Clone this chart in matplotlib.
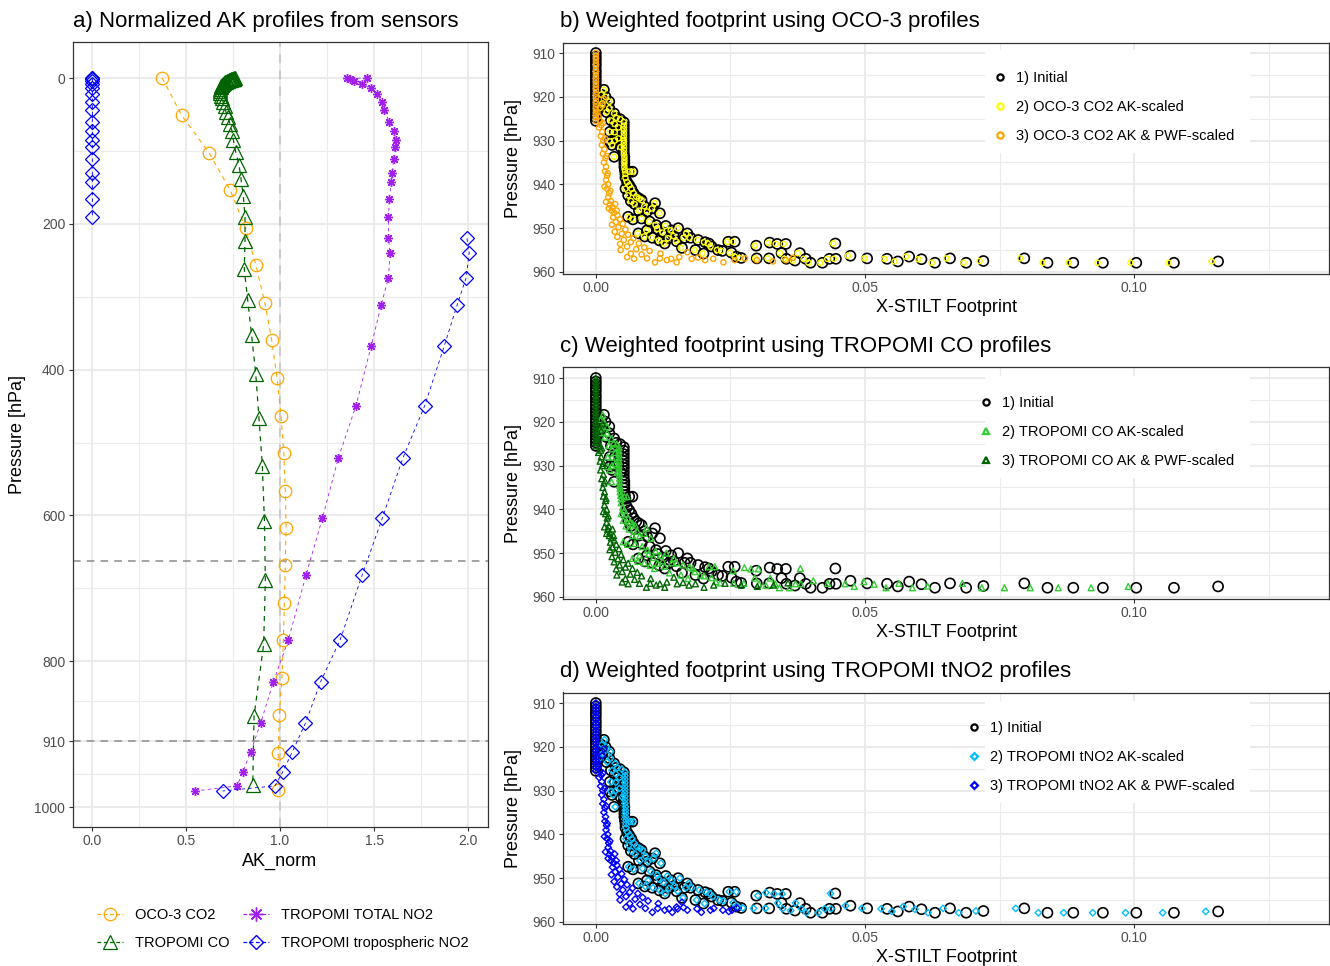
import matplotlib
matplotlib.use("Agg")
import matplotlib.pyplot as plt
from matplotlib.lines import Line2D
from matplotlib.patches import Rectangle

plt.rcParams['font.family'] = ['Liberation Sans', 'DejaVu Sans']

W, H = 1330, 966

# ---------------- a) normalized averaging kernels ----------------
oco_p = [0, 51, 103, 154, 206, 257, 309, 360, 411, 463, 514, 566, 617, 668, 720, 771, 823, 874, 926, 977]
oco_ak = [0.374, 0.477, 0.624, 0.736, 0.817, 0.872, 0.920, 0.956, 0.984, 1.005,
          1.020, 1.028, 1.032, 1.028, 1.023, 1.018, 1.010, 0.996, 0.991, 0.991]

co_p = [0.5, 0.6, 0.72, 0.85, 1.0, 1.2, 1.4, 1.6, 1.9, 2.2, 2.6, 3.1, 3.6, 4.2, 5.0, 5.8, 6.8,
        8.0, 9.4, 11, 12.8, 15, 17.5, 20.5, 24, 28, 33, 39, 46, 54, 63, 73, 85, 101, 119,
        139, 162, 191, 223, 262, 304, 353, 406, 466, 532, 607, 688, 777, 875, 970]
co_ak = [0.760, 0.758, 0.756, 0.754, 0.752, 0.750, 0.748, 0.745, 0.742, 0.738, 0.734, 0.730,
         0.725, 0.720, 0.714, 0.708, 0.702, 0.697, 0.692,
         0.688, 0.685, 0.683, 0.682, 0.683,
         0.686, 0.692, 0.698, 0.705, 0.712, 0.722,
         0.735, 0.745, 0.752, 0.764, 0.782, 0.793, 0.805, 0.814, 0.814, 0.810,
         0.828, 0.849, 0.871, 0.888, 0.906, 0.917, 0.922, 0.913, 0.862, 0.855]

no2_p = [0.0, 0.5, 1.4, 3.7, 8.2, 14, 22, 33, 44, 61, 72, 85, 95, 111, 130, 143, 166, 191,
         220, 240, 274, 312, 368, 450, 521, 604, 682, 771, 828, 885, 924, 952, 971, 978]
no2_tot = [1.464, 1.355, 1.372, 1.394, 1.434, 1.482, 1.517, 1.541, 1.555, 1.581, 1.603, 1.615,
           1.612, 1.603, 1.597, 1.590, 1.581, 1.576, 1.576, 1.585, 1.576, 1.537, 1.484, 1.403,
           1.310, 1.225, 1.138, 1.044, 0.965, 0.897, 0.844, 0.803, 0.771, 0.549]
no2_trop = [0, 0, 0, 0, 0, 0, 0, 0, 0, 0, 0, 0, 0, 0, 0, 0, 0, 0,
            1.993, 2.005, 1.989, 1.940, 1.872, 1.768, 1.653, 1.543, 1.436, 1.319, 1.216,
            1.135, 1.066, 1.014, 0.973, 0.695]
n_strat = 18  # levels above the tropopause (zero tropospheric AK)

# ---------------- b-d) particle footprints ----------------
# particles with zero footprint (same for every scaling)
zero_p = [910, 910.8, 911.5, 912.3, 913, 913.9, 914.6, 915.4, 916.2, 917, 917.8, 918.5,
          919.3, 920.1, 920.9, 921.6, 922.4, 923.1, 923.9, 924.7, 925.5]

init_p = [922.5, 919.5, 921.5, 918.4, 920.0, 923.5, 921.1, 922.6, 925.4, 923.8, 924.8, 925.1,
          928.0, 930.2, 931.0, 933.7, 926.2, 928.1, 930.0, 927.0, 929.5, 931.5,
          925.8, 926.6, 927.4, 928.2, 929.0, 929.8, 930.5, 931.3, 932.1, 932.9, 933.7, 934.5,
          935.2, 936.0, 936.8,
          937.6, 937.1, 937.1, 938.5, 939.5, 940.2, 941.0, 941.0, 942.0, 942.5,
          942.8, 943.2, 943.6, 943.8, 944.5, 945.0, 944.3, 945.5, 946.0, 946.2,
          946.6, 947.4, 947.8, 948.0, 948.5, 949.3, 949.5, 950.0, 950.2, 950.5,
          950.5, 951.0, 951.2, 951.2, 951.8, 951.9, 952.2, 952.2, 952.2, 952.3,
          952.7, 952.8, 953.0, 953.1, 953.1, 953.2, 953.5, 953.5, 954.0, 954.2,
          954.5, 955.0, 955.0, 955.2, 955.6, 955.8, 956.5, 956.8,
          953.3, 953.6, 953.6, 953.5, 956.9, 956.9, 955.7, 957.0, 957.4, 955.7,
          957.0, 957.9, 957.9, 957.0, 957.0, 956.3, 956.9, 957.0, 957.6, 956.5,
          957.1, 957.9, 956.9, 957.9, 957.5, 956.9, 957.9, 957.9, 957.9, 957.9,
          957.9, 957.6]
init_fp = [0.0008, 0.0010, 0.0012, 0.0015, 0.0018, 0.0020, 0.0025, 0.0025, 0.0028, 0.0034, 0.0038, 0.0045,
           0.0026, 0.0026, 0.0030, 0.0034, 0.0035, 0.0035, 0.0035, 0.0042, 0.0042, 0.0046,
           0.0052, 0.0052, 0.0052, 0.0052, 0.0052, 0.0052, 0.0052, 0.0052, 0.0052, 0.0052,
           0.0053, 0.0053, 0.0053, 0.0053, 0.0054,
           0.0055, 0.0062, 0.0068, 0.0055, 0.0058, 0.0062, 0.0055, 0.0066, 0.0070, 0.0060,
           0.0075, 0.0080, 0.0085, 0.0065, 0.0072, 0.0090, 0.0110, 0.0105, 0.0080, 0.0095,
           0.0119, 0.0060, 0.0085, 0.0069, 0.0100, 0.0112, 0.0130, 0.0153, 0.0115, 0.0095,
           0.0140, 0.0125, 0.0079, 0.0170, 0.0145, 0.0091, 0.0105, 0.0165, 0.0176, 0.0135,
           0.0190, 0.0118, 0.0150, 0.0246, 0.0258, 0.0203, 0.0128, 0.0210, 0.0298, 0.0215,
           0.0160, 0.0185, 0.0227, 0.0235, 0.0252, 0.0200, 0.0261, 0.0270,
           0.0323, 0.0337, 0.0353, 0.0445, 0.0299, 0.0322, 0.0345, 0.0354, 0.0370, 0.0379,
           0.0390, 0.0399, 0.0421, 0.0434, 0.0446, 0.0473, 0.0504, 0.0541, 0.0561, 0.0582,
           0.0605, 0.0630, 0.0658, 0.0688, 0.0720, 0.0796, 0.0839, 0.0887, 0.0942, 0.1004,
           0.1074, 0.1156]

# AK-scaled footprints (same particles as init_p)
oco_ak_fp = [0.0008, 0.0010, 0.0012, 0.0015, 0.0018, 0.0020, 0.0025, 0.0025, 0.0028, 0.0034, 0.0038, 0.0045,
             0.0026, 0.0026, 0.0030, 0.0034, 0.0035, 0.0035, 0.0035, 0.0042, 0.0042, 0.0046,
             0.0052, 0.0052, 0.0052, 0.0052, 0.0052, 0.0052, 0.0052, 0.0052, 0.0052, 0.0052,
             0.0053, 0.0053, 0.0053, 0.0053, 0.0054,
             0.0055, 0.0062, 0.0068, 0.0055, 0.0058, 0.0062, 0.0055, 0.0066, 0.0070, 0.0060,
             0.0075, 0.0080, 0.0085, 0.0065, 0.0072, 0.0090, 0.0109, 0.0104, 0.0080, 0.0095,
             0.0118, 0.0060, 0.0085, 0.0069, 0.0099, 0.0111, 0.0129, 0.0152, 0.0114, 0.0094,
             0.0139, 0.0124, 0.0078, 0.0168, 0.0144, 0.0090, 0.0104, 0.0163, 0.0174, 0.0134,
             0.0188, 0.0117, 0.0149, 0.0244, 0.0255, 0.0201, 0.0127, 0.0208, 0.0295, 0.0213,
             0.0158, 0.0183, 0.0225, 0.0233, 0.0249, 0.0198, 0.0258, 0.0267,
             0.0320, 0.0334, 0.0349, 0.0441, 0.0296, 0.0319, 0.0342, 0.0350, 0.0366, 0.0375,
             0.0386, 0.0395, 0.0417, 0.0430, 0.0442, 0.0468, 0.0499, 0.0536, 0.0555, 0.0576,
             0.0599, 0.0624, 0.0651, 0.0683, 0.0713, 0.0788, 0.0830, 0.0878, 0.0932, 0.0993,
             0.1064, 0.1144]
co_ak_fp = [0.0007, 0.0009, 0.0010, 0.0013, 0.0015, 0.0017, 0.0021, 0.0021, 0.0024, 0.0029, 0.0033, 0.0039,
            0.0022, 0.0022, 0.0026, 0.0029, 0.0030, 0.0030, 0.0030, 0.0036, 0.0036, 0.0040,
            0.0043, 0.0043, 0.0043, 0.0043, 0.0043, 0.0043, 0.0043, 0.0043, 0.0044, 0.0044,
            0.0044, 0.0044, 0.0045, 0.0045, 0.0046,
            0.0047, 0.0053, 0.0058, 0.0047, 0.0050, 0.0053, 0.0047, 0.0056, 0.0060, 0.0051,
            0.0064, 0.0068, 0.0073, 0.0056, 0.0062, 0.0077, 0.0094, 0.0090, 0.0068, 0.0081,
            0.0102, 0.0051, 0.0073, 0.0059, 0.0086, 0.0096, 0.0111, 0.0131, 0.0098, 0.0081,
            0.0120, 0.0107, 0.0068, 0.0145, 0.0124, 0.0078, 0.0090, 0.0141, 0.0150, 0.0115,
            0.0162, 0.0101, 0.0128, 0.0210, 0.0221, 0.0174, 0.0109, 0.0180, 0.0255, 0.0184,
            0.0137, 0.0158, 0.0194, 0.0201, 0.0215, 0.0171, 0.0223, 0.0231,
            0.0276, 0.0288, 0.0302, 0.0380, 0.0256, 0.0275, 0.0295, 0.0303, 0.0316, 0.0324,
            0.0333, 0.0341, 0.0360, 0.0371, 0.0381, 0.0404, 0.0431, 0.0463, 0.0480, 0.0498,
            0.0517, 0.0539, 0.0563, 0.0588, 0.0616, 0.0681, 0.0717, 0.0759, 0.0807, 0.0859,
            0.0920, 0.0989]
no2_ak_fp = [0.0008, 0.0011, 0.0013, 0.0016, 0.0019, 0.0021, 0.0027, 0.0027, 0.0030, 0.0036, 0.0040, 0.0048,
             0.0028, 0.0028, 0.0032, 0.0036, 0.0037, 0.0037, 0.0037, 0.0044, 0.0044, 0.0049,
             0.0054, 0.0054, 0.0054, 0.0054, 0.0054, 0.0054, 0.0054, 0.0054, 0.0054, 0.0054,
             0.0055, 0.0055, 0.0055, 0.0055, 0.0056,
             0.0056, 0.0063, 0.0069, 0.0056, 0.0059, 0.0063, 0.0056, 0.0067, 0.0071, 0.0061,
             0.0076, 0.0082, 0.0087, 0.0066, 0.0073, 0.0092, 0.0112, 0.0107, 0.0082, 0.0097,
             0.0121, 0.0061, 0.0087, 0.0070, 0.0102, 0.0114, 0.0133, 0.0156, 0.0117, 0.0097,
             0.0141, 0.0126, 0.0080, 0.0172, 0.0146, 0.0092, 0.0106, 0.0167, 0.0178, 0.0136,
             0.0192, 0.0119, 0.0152, 0.0248, 0.0261, 0.0205, 0.0129, 0.0212, 0.0301, 0.0217,
             0.0162, 0.0187, 0.0229, 0.0237, 0.0255, 0.0202, 0.0264, 0.0273,
             0.0316, 0.0331, 0.0346, 0.0436, 0.0293, 0.0315, 0.0338, 0.0347, 0.0362, 0.0371,
             0.0382, 0.0391, 0.0413, 0.0425, 0.0437, 0.0464, 0.0494, 0.0530, 0.0550, 0.0571,
             0.0593, 0.0617, 0.0645, 0.0674, 0.0706, 0.0780, 0.0822, 0.0869, 0.0923, 0.0984,
             0.1053, 0.1133]

# AK & PWF-scaled footprints (shared particle pressures)
pwf_p = [920.5, 922.0, 923.5, 924.5, 925.5, 926.5, 927.0, 928.0, 929.0, 930.0,
         931.0, 932.0, 933.0, 934.0, 935.0, 936.0, 937.0, 938.0, 939.0, 940.0,
         941.0, 942.0, 943.0, 943.8, 944.6, 945.2, 946.0, 946.5, 947.0, 947.5,
         948.0, 948.6, 949.0, 949.2, 949.8, 950.3, 950.8, 951.3, 951.5, 952.0,
         952.3, 952.7, 953.2, 953.5, 953.6, 954.2, 954.4, 954.8, 955.0, 955.2,
         955.8, 956.0, 955.8, 956.6, 957.0, 956.9, 956.9, 957.3, 957.0, 956.6,
         957.0, 956.7, 957.3, 957.0, 957.8, 957.3, 956.9, 957.3, 957.6, 957.3,
         956.8, 957.8, 957.8, 955.5,
         926.0, 929.5, 933.5, 937.5, 940.5, 941.5, 944.0, 945.5, 944.5, 946.0]
oco_pwf_fp = [0.0015, 0.0012, 0.0003, 0.0005, 0.0008, 0.0010, 0.0006, 0.0012, 0.0009, 0.0014,
              0.0011, 0.0016, 0.0013, 0.0018, 0.0015, 0.0019, 0.0017, 0.0021, 0.0019, 0.0023,
              0.0021, 0.0025, 0.0023, 0.0028, 0.0026, 0.0031, 0.0029, 0.0034, 0.0040, 0.0032,
              0.0045, 0.0037, 0.0050, 0.0030, 0.0042, 0.0055, 0.0035, 0.0048, 0.0060, 0.0040,
              0.0070, 0.0052, 0.0065, 0.0080, 0.0045, 0.0058, 0.0090, 0.0075, 0.0046, 0.0100,
              0.0065, 0.0085, 0.0120, 0.0058, 0.0071, 0.0095, 0.0119, 0.0132, 0.0140, 0.0155,
              0.0178, 0.0190, 0.0203, 0.0218, 0.0237, 0.0258, 0.0277, 0.0299, 0.0329, 0.0353,
              0.0366, 0.0110, 0.0150, 0.0170,
              0.0013, 0.0017, 0.0020, 0.0022, 0.0016, 0.0027, 0.0019, 0.0024, 0.0036, 0.0039]
co_pwf_fp = [0.0013, 0.0010, 0.0003, 0.0004, 0.0007, 0.0009, 0.0005, 0.0010, 0.0008, 0.0012,
             0.0009, 0.0014, 0.0011, 0.0015, 0.0013, 0.0016, 0.0014, 0.0018, 0.0016, 0.0020,
             0.0018, 0.0021, 0.0020, 0.0024, 0.0022, 0.0026, 0.0025, 0.0029, 0.0034, 0.0027,
             0.0038, 0.0031, 0.0043, 0.0026, 0.0036, 0.0047, 0.0030, 0.0041, 0.0051, 0.0034,
             0.0060, 0.0044, 0.0055, 0.0068, 0.0038, 0.0049, 0.0077, 0.0064, 0.0039, 0.0085,
             0.0055, 0.0072, 0.0102, 0.0049, 0.0060, 0.0081, 0.0101, 0.0112, 0.0119, 0.0132,
             0.0151, 0.0162, 0.0173, 0.0185, 0.0201, 0.0219, 0.0240, 0.0270, 0.0300, 0.0330,
             0.0357, 0.0094, 0.0128, 0.0145,
             0.0011, 0.0014, 0.0017, 0.0019, 0.0014, 0.0023, 0.0016, 0.0020, 0.0031, 0.0033]
no2_pwf_fp = [0.0015, 0.0012, 0.0003, 0.0005, 0.0008, 0.0010, 0.0006, 0.0011, 0.0009, 0.0013,
              0.0011, 0.0015, 0.0013, 0.0017, 0.0015, 0.0018, 0.0017, 0.0020, 0.0019, 0.0022,
              0.0021, 0.0024, 0.0023, 0.0027, 0.0025, 0.0030, 0.0028, 0.0033, 0.0039, 0.0031,
              0.0044, 0.0036, 0.0048, 0.0029, 0.0041, 0.0053, 0.0034, 0.0047, 0.0058, 0.0039,
              0.0068, 0.0050, 0.0063, 0.0078, 0.0044, 0.0056, 0.0087, 0.0073, 0.0045, 0.0097,
              0.0063, 0.0082, 0.0116, 0.0056, 0.0069, 0.0092, 0.0115, 0.0128, 0.0136, 0.0150,
              0.0152, 0.0163, 0.0170, 0.0188, 0.0196, 0.0213, 0.0219, 0.0236, 0.0247, 0.0253,
              0.0262, 0.0105, 0.0142, 0.0160,
              0.0013, 0.0016, 0.0019, 0.0021, 0.0016, 0.0026, 0.0018, 0.0023, 0.0035, 0.0038]

COL_BORDER = '#333333'
COL_TICKLAB = '#4D4D4D'


def px(x, y):
    return x / W, 1 - y / H


def add_axes(left, top, right, bottom):
    return fig.add_axes([left / W, 1 - bottom / H, (right - left) / W, (bottom - top) / H])


def style(ax):
    ax.set_facecolor('white')
    for s in ax.spines.values():
        s.set_color(COL_BORDER)
        s.set_linewidth(0.9)
    ax.set_axisbelow(True)
    ax.grid(True, which='major', color='#EBEBEB', lw=1.4)
    ax.grid(True, which='minor', color='#EBEBEB', lw=0.8)
    ax.tick_params(which='major', length=3.0, width=0.8, color=COL_BORDER,
                   labelcolor=COL_TICKLAB, labelsize=10, pad=2.5)
    ax.tick_params(which='minor', length=0)


fig = plt.figure(figsize=(W / 100, H / 100), dpi=100)

# ---------------- panel a ----------------
ax = add_axes(73, 42.3, 488, 826.7)
style(ax)
ax.axhline(662, color='#8C8C8C', lw=1.1, ls=(0, (5, 4)), zorder=1)
ax.axhline(910, color='#8C8C8C', lw=1.1, ls=(0, (5, 4)), zorder=1)
ax.axvline(1.0, color='#C8C8C8', lw=1.3, ls=(0, (5, 4)), zorder=1)

ax.plot(oco_ak, oco_p, color='orange', ls=(0, (4, 4)), lw=0.8, marker='o', ms=9,
        mfc='none', mec='orange', mew=0.9, zorder=3)
ax.plot(co_ak, co_p, color='#006400', ls=(0, (4, 4)), lw=0.9, marker='^', ms=10,
        mfc='none', mec='#006400', mew=0.9, zorder=3)
ax.plot(no2_tot, no2_p, color='#A020F0', ls=(0, (4, 4)), lw=0.6, marker=(8, 2, 0), ms=6.5,
        mec='#A020F0', mew=1.0, zorder=3)
# tropospheric kernel: stratospheric part and tropospheric part drawn as separate paths
for sl in (slice(0, n_strat), slice(n_strat, None)):
    ax.plot(no2_trop[sl], no2_p[sl], color='#0000FF', ls=(0, (4, 4)), lw=0.6, marker='D', ms=7,
            mfc='none', mec='#0000FF', mew=0.9, zorder=3)

ax.set_xlim(-0.1, 2.105)
ax.set_ylim(1027, -49)
ax.set_xticks([0, 0.5, 1.0, 1.5, 2.0])
ax.set_xticklabels(['0.0', '0.5', '1.0', '1.5', '2.0'])
ax.set_xticks([0.25, 0.75, 1.25, 1.75], minor=True)
ax.set_yticks([0, 200, 400, 600, 800, 910, 1000])
ax.set_yticks([100, 300, 500, 700, 855, 955], minor=True)

fig.text(*px(73, 21), 'a) Normalized AK profiles from sensors', fontsize=16, va='center', ha='left')
fig.text(*px(280, 861), 'AK_norm', fontsize=13, va='center', ha='center')
fig.text(*px(18, 435), 'Pressure [hPa]', fontsize=13, va='center', ha='center', rotation=90)

leg_handles = [
    Line2D([], [], color='orange', ls=(0, (3, 2)), lw=0.9, marker='o', ms=9, mfc='none', mew=0.9),
    Line2D([], [], color='#006400', ls=(0, (3, 2)), lw=0.9, marker='^', ms=10, mfc='none', mew=0.9),
    Line2D([], [], color='#A020F0', ls=(0, (3, 2)), lw=0.9, marker=(8, 2, 0), ms=10, mew=1.0),
    Line2D([], [], color='#0000FF', ls=(0, (3, 2)), lw=0.9, marker='D', ms=7.5, mfc='none', mew=1.0),
]
fig.legend(leg_handles, ['OCO-3 CO2', 'TROPOMI CO', 'TROPOMI TOTAL NO2', 'TROPOMI tropospheric NO2'],
           loc='center left', bbox_to_anchor=px(84, 929), ncol=2, frameon=False, fontsize=10.5,
           handlelength=1.8, handletextpad=0.8, columnspacing=0.9, labelspacing=0.95)

# ---------------- panels b-d ----------------
panels = [
    (42.5, 'b) Weighted footprint using OCO-3 profiles', oco_ak_fp, oco_pwf_fp,
     '#FFFF00', '#FFA500', 'o', 14,
     ['1) Initial', '2) OCO-3 CO2 AK-scaled', '3) OCO-3 CO2 AK & PWF-scaled']),
    (367.5, 'c) Weighted footprint using TROPOMI CO profiles', co_ak_fp, co_pwf_fp,
     '#32CD32', '#006400', '^', 18,
     ['1) Initial', '2) TROPOMI CO AK-scaled', '3) TROPOMI CO AK & PWF-scaled']),
    (692.5, 'd) Weighted footprint using TROPOMI tNO2 profiles', no2_ak_fp, no2_pwf_fp,
     '#00BFFF', '#0000FF', 'D', 11,
     ['1) Initial', '2) TROPOMI tNO2 AK-scaled', '3) TROPOMI tNO2 AK & PWF-scaled']),
]

for top, title, ak_fp, pwf_fp, c_ak, c_pwf, mk, msz, labels in panels:
    bottom = top + 231.2
    ax = add_axes(563, top, 1329, bottom)
    style(ax)
    zero_fp = [0.0] * len(zero_p)
    ax.scatter(zero_fp, zero_p, s=52, facecolors='none', edgecolors='black', lw=1.2, zorder=3)
    ax.scatter(init_fp, init_p, s=52, facecolors='none', edgecolors='black', lw=1.2, zorder=3)
    ax.scatter(ak_fp, init_p, s=msz, marker=mk, facecolors='none', edgecolors=c_ak, lw=1.0, zorder=4)
    ax.scatter(zero_fp, zero_p, s=msz, marker=mk, facecolors='none', edgecolors=c_pwf, lw=1.0, zorder=5)
    ax.scatter(pwf_fp, pwf_p, s=msz, marker=mk, facecolors='none', edgecolors=c_pwf, lw=1.0, zorder=5)

    ax.set_xlim(-0.0061, 0.1362)
    ax.set_ylim(960.4, 907.6)
    ax.set_xticks([0, 0.05, 0.10])
    ax.set_xticklabels(['0.00', '0.05', '0.10'])
    ax.set_xticks([0.025, 0.075, 0.125], minor=True)
    ax.set_yticks([910, 920, 930, 940, 950, 960])
    ax.set_yticks([915, 925, 935, 945, 955], minor=True)

    # white background behind the key
    box_l, box_t, box_r, box_b = 985, top + 8, 1250, top + 110
    ax.add_patch(Rectangle(((box_l - 563) / 766, 1 - (box_b - top) / 231.2),
                           (box_r - box_l) / 766, (box_b - box_t) / 231.2,
                           transform=ax.transAxes, facecolor='white', edgecolor='none', zorder=1))
    key_ms = 4.5 if mk != 'D' else 3.5
    handles = [
        Line2D([], [], ls='none', marker='o', ms=4.5, mfc='none', mec='black', mew=1.6),
        Line2D([], [], ls='none', marker=mk, ms=key_ms, mfc='none', mec=c_ak, mew=1.6),
        Line2D([], [], ls='none', marker=mk, ms=key_ms, mfc='none', mec=c_pwf, mew=1.6),
    ]
    ax.legend(handles, labels, loc='upper right', bbox_to_anchor=((1247 - 563) / 766, 1 - 16 / 231.2),
              frameon=False, fontsize=10.5, handlelength=1.0, handletextpad=0.6, labelspacing=1.02,
              borderpad=0.35)

    fig.text(*px(560, top - 21), title, fontsize=16, va='center', ha='left')
    fig.text(*px(946, bottom + 34), 'X-STILT Footprint', fontsize=13, va='center', ha='center')
    fig.text(*px(513, top + 115.6), 'Pressure [hPa]', fontsize=13, va='center', ha='center', rotation=90)

fig.savefig('out.png', dpi=100)
